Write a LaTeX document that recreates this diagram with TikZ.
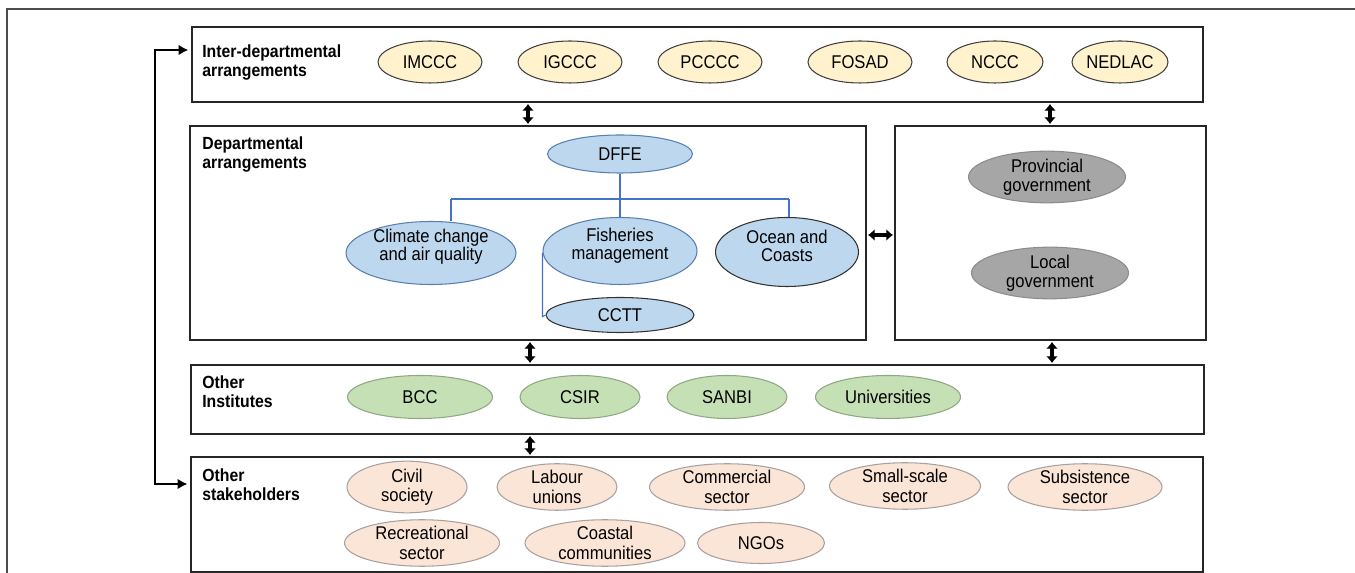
\documentclass[tikz,border=0pt]{standalone}
\usepackage{fontspec}
\setmainfont{Liberation Sans}[FakeStretch=0.9]
\usetikzlibrary{shapes.geometric,arrows.meta}
\newcommand\pxu{0.02cm}
\definecolor{yelfill}{HTML}{FFF2CC}
\definecolor{bluefill}{HTML}{BDD7EE}
\definecolor{bluedraw}{HTML}{5A7FB0}
\definecolor{grayfill}{HTML}{A6A6A6}
\definecolor{graydraw}{HTML}{8C8C8C}
\definecolor{greenfill}{HTML}{C5E0B4}
\definecolor{greendraw}{HTML}{8FA884}
\definecolor{peachfill}{HTML}{FBE5D6}
\definecolor{peachdraw}{HTML}{A8A0A0}
\definecolor{treeline}{HTML}{4472C4}
\tikzset{
  etext/.style={inner sep=0pt, align=center, font=\fontsize{10.5}{10.2}\selectfont},
  ell/.style={ellipse, inner sep=0pt, align=center, font=\fontsize{10.5}{11}\selectfont, line width=0.6pt},
  yel/.style={ell, fill=yelfill, draw=black!75, minimum height=42*\pxu},
  blu/.style={ell, fill=bluefill, draw=bluedraw},
  bludark/.style={ell, fill=bluefill, draw=black!80},
  gry/.style={ell, fill=grayfill, draw=graydraw, minimum height=41*\pxu},
  grn/.style={ell, fill=greenfill, draw=greendraw, minimum height=43*\pxu},
  pch/.style={ell, fill=peachfill, draw=peachdraw, minimum height=41*\pxu},
  box/.style={draw=black!85, line width=1.1pt, inner sep=0pt},
  lbl/.style={anchor=north west, inner sep=0pt, align=left, font=\fontsize{10}{11.3}\selectfont\bfseries},
  dbl/.style={line width=2.2pt, {Latex[length=3.8pt,width=7pt]}-{Latex[length=3.8pt,width=7pt]}},
  side/.style={line width=1.2pt, {Latex[length=5.5pt,width=6pt]}-{Latex[length=5.5pt,width=6pt]}},
  tree/.style={draw=treeline, line width=0.6pt}
}
\begin{document}
\begin{tikzpicture}[x=0.02cm,y=-0.02cm]
\useasboundingbox (0,0) rectangle (1355,573);
\draw[black!70, line width=0.8pt] (7,573) -- (7,9) -- (1355,9);

% boxes
\node[box, minimum width=1011*\pxu, minimum height=75*\pxu] (b1) at (697.5,64.5) {};
\node[box, minimum width=676*\pxu, minimum height=214*\pxu] (b2) at (528,233) {};
\node[box, minimum width=311*\pxu, minimum height=214*\pxu] (b3) at (1050.5,233) {};
\node[box, minimum width=1013*\pxu, minimum height=69*\pxu] (b4) at (697.5,399.5) {};
\node[box, minimum width=1012*\pxu, minimum height=115*\pxu] (b5) at (697,514.5) {};

% labels
\node[lbl] (l1) at (202,44) {Inter-departmental\\arrangements};
\node[lbl] (l2) at (202,136) {Departmental\\arrangements};
\node[lbl] (l4) at (202,375) {Other\\Institutes};
\node[lbl] (l5) at (202,468) {Other\\stakeholders};

% inter-departmental
\node[yel, minimum width=104*\pxu] (imccc) at (430,62) {IMCCC};
\node[yel, minimum width=104*\pxu] (igccc) at (570,62) {IGCCC};
\node[yel, minimum width=104*\pxu] (pcccc) at (710,62) {PCCCC};
\node[yel, minimum width=104*\pxu] (fosad) at (860,62) {FOSAD};
\node[yel, minimum width=96*\pxu] (nccc) at (995,62) {NCCC};
\node[yel, minimum width=96*\pxu] (nedlac) at (1120,62) {NEDLAC};

% departmental
\node[blu, minimum width=145*\pxu, minimum height=38*\pxu] (dffe) at (620,154) {DFFE};
\node[blu, minimum width=170*\pxu, minimum height=63*\pxu] (clim) at (431,253) {};
\node[blu, minimum width=154*\pxu, minimum height=67*\pxu] (fish) at (620,251) {};
\node[bludark, minimum width=143*\pxu, minimum height=69*\pxu] (ocean) at (787,252) {};
\node[bludark, minimum width=148*\pxu, minimum height=35*\pxu] (cctt) at (620,315) {CCTT};
\node[etext] (climt) at (431,247) {Climate change\\and air quality};
\node[etext] (fisht) at (620,246) {Fisheries\\management};
\node[etext] (oceant) at (787,246) {Ocean and\\Coasts};

\coordinate (hl) at (451,199);
\coordinate (hr) at (789,199);
\draw[tree] (dffe.south) -- (fish.north);
\draw[tree] (hl) -- (hr);
\draw[tree] (hl) -- (hl |- clim.north);
\draw[tree] (hr) -- (hr |- ocean.north);
\draw[tree] ([yshift=-1pt]fish.west) -- ([yshift=-1pt]fish.west |- cctt.west) -- (cctt.west);

% government
\node[gry, minimum width=157*\pxu] (prov) at (1047,177) {Provincial\\government};
\node[gry, minimum width=157*\pxu] (local) at (1050,273) {Local\\government};

% institutes
\node[grn, minimum width=145*\pxu] (bcc) at (420,397) {BCC};
\node[grn, minimum width=120*\pxu] (csir) at (580,397) {CSIR};
\node[grn, minimum width=120*\pxu] (sanbi) at (727,397) {SANBI};
\node[grn, minimum width=145*\pxu] (univ) at (888,397) {Universities};

% stakeholders
\node[pch, minimum width=120*\pxu] (civil) at (407,487) {Civil\\society};
\node[pch, minimum width=120*\pxu] (labour) at (557,487) {Labour\\unions};
\node[pch, minimum width=155*\pxu] (comm) at (727,487) {Commercial\\sector};
\node[pch, minimum width=151*\pxu] (small) at (905,486) {Small-scale\\sector};
\node[pch, minimum width=154*\pxu] (subs) at (1085,487) {Subsistence\\sector};
\node[pch, minimum width=155*\pxu] (recr) at (422,543) {Recreational\\sector};
\node[pch, minimum width=160*\pxu] (coast) at (605,543) {Coastal\\communities};
\node[pch, minimum width=127*\pxu] (ngo) at (761,543) {NGOs};

% connectors between boxes
\coordinate (a1) at (528,0);
\coordinate (a2) at (1050,0);
\coordinate (a3) at (0,235);
\coordinate (a4) at (530,0);
\coordinate (a5) at (1052,0);
\draw[dbl] ([yshift=-0.6pt]b1.south -| a1) -- ([yshift=0.6pt]b2.north -| a1);
\draw[dbl] ([yshift=-0.6pt]b1.south -| a2) -- ([yshift=0.6pt]b3.north -| a2);
\draw[dbl] ([xshift=0.6pt]b2.east |- a3) -- ([xshift=-0.6pt]b3.west |- a3);
\draw[dbl] ([yshift=-0.6pt]b2.south -| a4) -- ([yshift=0.6pt]b4.north -| a4);
\draw[dbl] ([yshift=-0.6pt]b3.south -| a5) -- ([yshift=0.6pt]b4.north -| a5);
\draw[dbl] ([yshift=-0.6pt]b4.south -| a4) -- ([yshift=0.6pt]b5.north -| a4);

% left loop
\coordinate (lt) at (155,50);
\coordinate (lb) at (155,484);
\draw[side] ([xshift=-1.5pt]lt -| b1.west) -- (lt) -- (lb) -- ([xshift=-1.5pt]lb -| b5.west);
\end{tikzpicture}
\end{document}
